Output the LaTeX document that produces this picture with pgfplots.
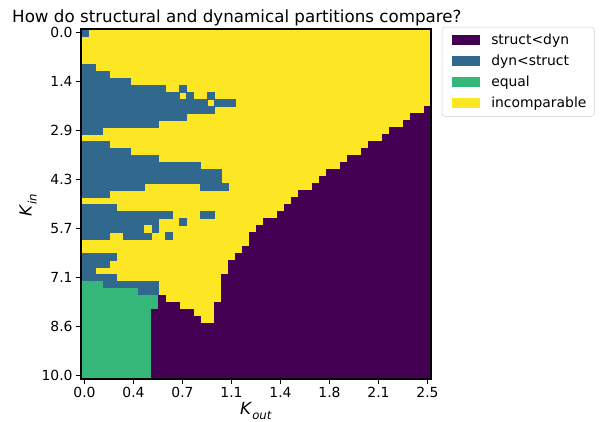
\documentclass[border=0pt]{standalone}
\usepackage{fontspec}
\setmainfont{DejaVu Sans}
\usepackage{pgfplots}
\pgfplotsset{compat=1.18}
\definecolor{vpurple}{HTML}{440154}
\definecolor{vblue}{HTML}{31688E}
\definecolor{vgreen}{HTML}{35B779}
\definecolor{vyellow}{HTML}{FDE725}
\begin{document}
\begin{tikzpicture}
\begin{axis}[
  scale only axis, width=350bp, height=350bp,
  xmin=0, xmax=50, ymin=0, ymax=50, y dir=reverse,
  axis on top,
  xtick={0.5,7.5,14.5,21.5,28.5,35.5,42.5,49.5},
  xticklabels={0.0,0.4,0.7,1.1,1.4,1.8,2.1,2.5},
  ytick={0.5,7.5,14.5,21.5,28.5,35.5,42.5,49.5},
  yticklabels={0.0,1.4,2.9,4.3,5.7,7.1,8.6,10.0},
  tick align=outside, xtick pos=left, ytick pos=left,
  major tick length=4.9bp,
  tick style={black, line width=1.1bp},
  axis line style={line width=1.1bp},
  ticklabel style={font=\fontsize{13.9bp}{16bp}\selectfont},
  legend style={at={(1.031,1.006)}, anchor=north west, draw=black!20, rounded corners=3bp, fill=white,
    font=\fontsize{13.9bp}{16bp}\selectfont, inner xsep=6bp, inner ysep=5bp, row sep=5bp,
    nodes={inner sep=2bp},
    /tikz/every odd column/.append style={column sep=9bp}},
  legend cell align=left,
  legend image code/.code={\path (0bp,0bp); \fill[#1, draw=none, sharp corners] (4bp,-5bp) rectangle (32bp,5bp);},
]
% background: incomparable
\addplot[fill=vyellow, draw=vyellow, line width=0.4bp, forget plot] coordinates {(0,0) (50,0) (50,50) (0,50)} --cycle;
% dyn<struct
\addplot[fill=vblue, draw=vblue, line width=0.4bp, forget plot] coordinates {(0,0) (1,0) (1,1) (0,1)} --cycle;
\addplot[fill=vblue, draw=vblue, line width=0.4bp, forget plot] coordinates {(0,5) (2,5) (2,6) (4,6) (4,7) (7,7) (7,8) (12,8) (12,9) (14,9) (14,10) (15,10) (15,9) (16,9) (16,10) (18,10) (18,11) (19,11) (19,12) (15,12) (15,13) (11,13) (11,14) (3,14) (3,15) (0,15)} --cycle;
\addplot[fill=vblue, draw=vblue, line width=0.4bp, forget plot] coordinates {(14,8) (15,8) (15,9) (14,9)} --cycle;
\addplot[fill=vblue, draw=vblue, line width=0.4bp, forget plot] coordinates {(18,9) (19,9) (19,10) (18,10)} --cycle;
\addplot[fill=vblue, draw=vblue, line width=0.4bp, forget plot] coordinates {(19,10) (22,10) (22,11) (19,11)} --cycle;
\addplot[fill=vblue, draw=vblue, line width=0.4bp, forget plot] coordinates {(0,16) (4,16) (4,17) (7,17) (7,18) (11,18) (11,19) (17,19) (17,20) (20,20) (20,22) (21,22) (21,23) (17,23) (17,22) (9,22) (9,23) (4,23) (4,24) (0,24)} --cycle;
\addplot[fill=vblue, draw=vblue, line width=0.4bp, forget plot] coordinates {(0,25) (5,25) (5,26) (13,26) (13,27) (11,27) (11,29) (10,29) (10,30) (6,30) (6,29) (4,29) (4,30) (0,30)} --cycle;
\addplot[fill=vblue, draw=vblue, line width=0.4bp, forget plot] coordinates {(17,26) (19,26) (19,27) (17,27)} --cycle;
\addplot[fill=vblue, draw=vblue, line width=0.4bp, forget plot] coordinates {(14,27) (15,27) (15,28) (14,28)} --cycle;
\addplot[fill=vblue, draw=vblue, line width=0.4bp, forget plot] coordinates {(12,29) (13,29) (13,30) (12,30)} --cycle;
\addplot[fill=vyellow, draw=vyellow, line width=0.4bp, forget plot] coordinates {(9,28) (10,28) (10,29) (9,29)} --cycle;
\addplot[fill=vblue, draw=vblue, line width=0.4bp, forget plot] coordinates {(0,32) (5,32) (5,33) (4,33) (4,34) (2,34) (2,35) (5,35) (5,36) (11,36) (11,38) (8,38) (8,37) (3,37) (3,36) (0,36)} --cycle;
% equal
\addplot[fill=vgreen, draw=vgreen, line width=0.4bp, forget plot] coordinates {(0,36) (3,36) (3,37) (8,37) (8,38) (11,38) (11,40) (10,40) (10,50) (0,50)} --cycle;
% struct<dyn
\addplot[fill=vpurple, draw=vpurple, line width=0.4bp, forget plot] coordinates {(50,11) (49,11) (49,12) (47,12) (47,13) (46,13) (46,14) (44,14) (44,15) (43,15) (43,16) (41,16) (41,17) (40,17) (40,18) (38,18) (38,19) (37,19) (37,20) (35,20) (35,21) (34,21) (34,22) (33,22) (33,23) (31,23) (31,24) (30,24) (30,25) (29,25) (29,26) (28,26) (28,27) (26,27) (26,28) (25,28) (25,29) (24,29) (24,31) (23,31) (23,32) (22,32) (22,33) (21,33) (21,35) (20,35) (20,39) (19,39) (19,42) (17,42) (17,41) (16,41) (16,40) (14,40) (14,39) (12,39) (12,38) (11,38) (11,40) (10,40) (10,50) (50,50)} --cycle;
\addlegendimage{fill=vpurple}\addlegendentry{struct<dyn}
\addlegendimage{fill=vblue}\addlegendentry{dyn<struct}
\addlegendimage{fill=vgreen}\addlegendentry{equal}
\addlegendimage{fill=vyellow}\addlegendentry{incomparable}
\end{axis}
\node[anchor=base west, inner sep=0pt, font=\fontsize{16.7bp}{20bp}\selectfont] at (-69bp,356bp) {How do structural and dynamical partitions compare?};
\node[rotate=90, inner sep=0pt, font=\fontsize{16.7bp}{20bp}\selectfont] at (-53bp,174bp) {\textit{K}\raisebox{-0.3em}{\fontsize{11.7bp}{12bp}\selectfont\textit{in}}};
\node[anchor=base, inner sep=0pt, font=\fontsize{16.7bp}{20bp}\selectfont] at (175bp,-35bp) {\textit{K}\raisebox{-0.3em}{\fontsize{11.7bp}{12bp}\selectfont\textit{out}}};
\pgfresetboundingbox
\path[use as bounding box] (-81bp,-43bp) rectangle (522bp,379bp);
\end{tikzpicture}
\end{document}
